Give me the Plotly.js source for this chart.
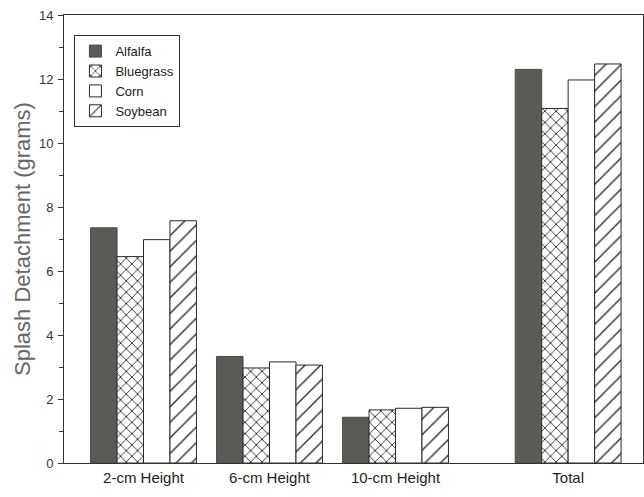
<!DOCTYPE html>
<html><head><meta charset="utf-8">
<script src="https://cdn.plot.ly/plotly-3.0.1.min.js"></script>
<style>html,body{margin:0;padding:0;background:#fff}#c{width:644px;height:497px}</style>
</head><body><div id="c"></div>
<script>
const categories = ["2-cm Height", "6-cm Height", "10-cm Height", "Total"];
const groupPos = [1, 2, 3, 4.37];
const alfalfa = [7.35, 3.33, 1.43, 12.3];
const bluegrass = [6.45, 2.97, 1.66, 11.08];
const corn = [6.98, 3.16, 1.71, 11.97];
const soybean = [7.57, 3.06, 1.74, 12.47];
const seriesNames = ["Alfalfa", "Bluegrass", "Corn", "Soybean"];

const lineStyle = {color: '#2a2a2a', width: 1};
const font = 'Liberation Sans, Arial, sans-serif';

const traces = [
  {name: seriesNames[0], x: groupPos, y: alfalfa, type: 'bar',
   marker: {color: '#5b5b56', line: {color: '#4a4a46', width: 1}}},
  {name: seriesNames[1], x: groupPos, y: bluegrass, type: 'bar',
   marker: {color: 'white', line: lineStyle,
     pattern: {shape: 'x', fgcolor: '#1a1a1a', bgcolor: 'white', size: 8, solidity: 0.2}}},
  {name: seriesNames[2], x: groupPos, y: corn, type: 'bar',
   marker: {color: 'white', line: lineStyle}},
  {name: seriesNames[3], x: groupPos, y: soybean, type: 'bar',
   marker: {color: 'white', line: lineStyle,
     pattern: {shape: '/', fgcolor: '#222', bgcolor: 'white', size: 11, solidity: 0.12}}}
];

const layout = {
  width: 644, height: 497,
  margin: {l: 64, r: 1, t: 15, b: 34},
  paper_bgcolor: 'white', plot_bgcolor: 'white',
  font: {family: font, color: '#222'},
  barmode: 'group', bargap: 0.16, bargroupgap: 0,
  showlegend: true,
  legend: {x: 0.018, y: 0.955, xanchor: 'left', yanchor: 'top',
    bgcolor: 'white', bordercolor: '#333', borderwidth: 1,
    font: {size: 13, family: font, color: '#222'},
    traceorder: 'normal', itemwidth: 30, tracegroupgap: 0},
  xaxis: {
    range: [0.369, 4.964],
    tickvals: groupPos, ticktext: categories,
    showgrid: false, zeroline: false, showline: true, mirror: true,
    linecolor: '#333', linewidth: 1, ticks: '',
    ticklabelstandoff: 1,
    tickfont: {size: 15, family: font, color: '#222'}
  },
  yaxis: {
    range: [0, 14], dtick: 2, showgrid: false, zeroline: false,
    showline: true, mirror: true, linecolor: '#333', linewidth: 1,
    ticks: 'outside', ticklen: 5, tickcolor: '#333',
    minor: {dtick: 1, ticks: 'outside', ticklen: 4, tickcolor: '#333'},
    tickfont: {size: 13, family: font, color: '#333'},
    ticklabelstandoff: 2,
    title: {text: 'Splash Detachment (grams)', font: {size: 22, family: font, color: '#666'}, standoff: 2}
  }
};

Plotly.newPlot('c', traces, layout, {displayModeBar: false, staticPlot: true});
</script></body></html>
